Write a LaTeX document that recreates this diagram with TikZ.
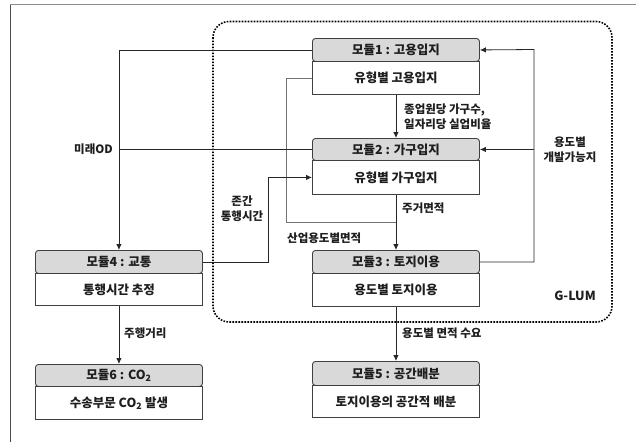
\documentclass[tikz,border=0pt]{standalone}
\usepackage{fontspec}
\setmainfont{Noto Sans CJK KR}
\usetikzlibrary{arrows.meta}
\definecolor{hdrfill}{HTML}{D9D9D9}
\definecolor{edge}{HTML}{404040}
\definecolor{txt}{HTML}{1E1E1E}
\begin{document}
\begin{tikzpicture}[x=1pt,y=-1pt,
  hdr/.style={draw=edge, fill=hdrfill, rounded corners=3pt, line width=0.9pt,
    minimum width=167pt, minimum height=23pt, inner sep=0pt, anchor=north west,
    text=txt, font=\bfseries\fontsize{12.5}{14}\selectfont},
  bdy/.style={draw=edge, fill=white, line width=0.9pt,
    minimum width=167pt, minimum height=33pt, inner sep=0pt, anchor=north west,
    text=txt, font=\bfseries\fontsize{12.5}{14}\selectfont},
  lbl/.style={font=\bfseries\fontsize{11.5}{15}\selectfont, text=txt, align=center, inner sep=0pt},
  arr/.style={-{Latex[length=6pt,width=5.5pt]}, line width=0.8pt, draw=black!85},
  ln/.style={line width=0.8pt, draw=black!85},
  gln/.style={line width=0.8pt, draw=black!55}]
\useasboundingbox (0,0) rectangle (636,442);
% outer frame (partial)
\draw[line width=1.3pt, draw=black!45] (10,4.5) -- (636,4.5);
\draw[line width=0.9pt, draw=black!70] (10,4.5) -- (10,442);
% G-LUM region
\draw[line width=1.6pt, dash pattern=on 1.6pt off 1.4pt, rounded corners=16pt] (213,21.5) rectangle (612,322);
\node[lbl, font=\bfseries\fontsize{12.5}{14}\selectfont] (glum) at (575,296) {G-LUM};

% modules
\node[hdr] (h1) at (312,38) {모듈1 : 고용입지};
\node[bdy] (b1) at (312,61) {유형별 고용입지};
\node[hdr, minimum height=22pt] (h2) at (312,138) {모듈2 : 가구입지};
\node[bdy, minimum height=34pt] (b2) at (312,160) {유형별 가구입지};
\node[hdr] (h3) at (312,250) {모듈3 : 토지이용};
\node[bdy] (b3) at (312,273) {용도별 토지이용};
\node[hdr] (h4) at (35,250) {모듈4 : 교통};
\node[bdy, minimum height=32pt] (b4) at (35,273) {통행시간 추정};
\node[hdr, minimum height=24pt] (h5) at (312,361) {모듈5 : 공간배분};
\node[bdy, minimum height=32pt] (b5) at (312,385) {토지이용의 공간적 배분};
\node[hdr, minimum height=22pt] (h6) at (35,364) {모듈6 : CO\textsubscript{2}};
\node[bdy] (b6) at (35,386) {수송부문 CO\textsubscript{2} 발생};

% coordinates
\coordinate (ind) at (286,222);
\coordinate (rt) at (534,49.5);
\coordinate (zt) at (268,261.5);

% vertical flows
\draw[arr] (b1.south) -- (h2.north);
\draw[arr] (b2.south) -- (h3.north);
\draw[arr] (b3.south) -- (h5.north);
\draw[arr] (b4.south) -- (h6.north);
% industrial area
\draw[gln] (b1.west) -| (ind) -- (ind -| b2.south);
% feedback from module3
\draw[arr] (h3.east) -| (rt) -- (h1.east);
\draw[arr] (h2.east -| rt) -- (h2.east);
% to module4
\draw[arr] (h1.west) -| (h4.north);
\draw[ln] (h2.west) -- (h2.west -| h4.north);
% module4 to module2
\draw[arr] (h4.east) -| (zt |- b2.west) -- (b2.west);

% labels
\node[lbl, anchor=west, align=left] (l1) at (404,117) {종업원당 가구수,\\일자리당 실업비율};
\node[lbl, anchor=west] (l2) at (402,208) {주거면적};
\node[lbl, anchor=west] (l3) at (287,238) {산업용도별면적};
\node[lbl] (l4) at (570,150) {용도별\\개발가능지};
\node[lbl, anchor=east] (l5) at (113,149) {미래OD};
\node[lbl] (l6) at (242,209) {존간\\통행시간};
\node[lbl, anchor=west] (l7) at (124,333) {주행거리};
\node[lbl, anchor=west] (l8) at (402,333) {용도별 면적 수요};
\end{tikzpicture}
\end{document}
